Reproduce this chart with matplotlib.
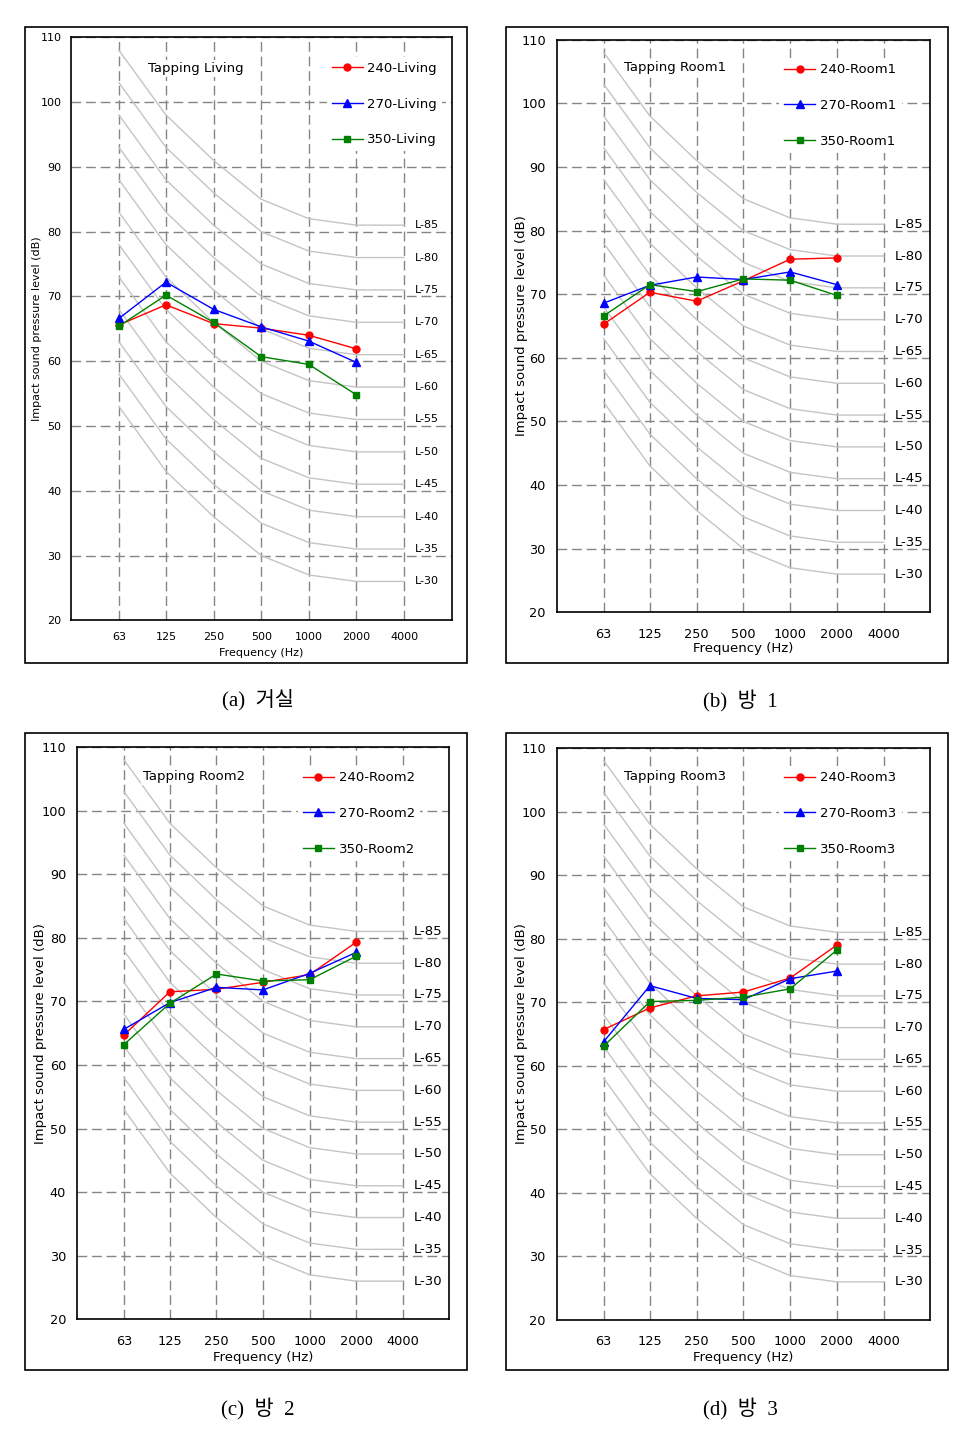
import matplotlib
matplotlib.use("Agg")
import matplotlib.pyplot as plt
from matplotlib.patches import Rectangle
from matplotlib.ticker import NullLocator

plt.rcParams['font.family'] = ['DejaVu Sans']

# ---------------- data ----------------
freqs = [63, 125, 250, 500, 1000, 2000]
tick_freqs = [63, 125, 250, 500, 1000, 2000, 4000]
tick_labels = ['63', '125', '250', '500', '1000', '2000', '4000']
y_ticks = [20, 30, 40, 50, 60, 70, 80, 90, 100, 110]

# reference L-curves: rating levels and shape offsets at tick_freqs
l_ratings = [30, 35, 40, 45, 50, 55, 60, 65, 70, 75, 80, 85]
l_shape = [23, 13, 6, 0, -3, -4, -4]

living_240 = [65.6, 68.7, 65.8, 65.1, 64.0, 61.9]
living_270 = [66.6, 72.2, 68.0, 65.3, 63.1, 59.8]
living_350 = [65.4, 70.2, 66.0, 60.7, 59.5, 54.8]

room1_240 = [65.3, 70.3, 68.9, 72.1, 75.5, 75.7]
room1_270 = [68.6, 71.4, 72.7, 72.3, 73.5, 71.5]
room1_350 = [66.6, 71.5, 70.4, 72.4, 72.2, 69.8]

room2_240 = [64.7, 71.5, 71.9, 73.0, 74.2, 79.3]
room2_270 = [65.6, 69.8, 72.2, 71.8, 74.4, 77.7]
room2_350 = [63.2, 69.7, 74.3, 73.2, 73.4, 77.1]

room3_240 = [65.7, 69.1, 71.0, 71.6, 73.8, 79.0]
room3_270 = [63.8, 72.6, 70.6, 70.4, 73.7, 74.9]
room3_350 = [63.1, 70.1, 70.3, 70.8, 72.1, 78.2]

series_names = ['240', '270', '350']
rooms = ['Living', 'Room1', 'Room2', 'Room3']
captions = ['(a)  거실', '(b)  방  1', '(c)  방  2', '(d)  방  3']
room_data = [
    [living_240, living_270, living_350],
    [room1_240, room1_270, room1_350],
    [room2_240, room2_270, room2_350],
    [room3_240, room3_270, room3_350],
]

# ---------------- styles / layout ----------------
W, H = 978, 1435
styles = [dict(color='#ff0000', marker='o', ms=5),
          dict(color='#0000ff', marker='^', ms=6),
          dict(color='#008000', marker='s', ms=5)]

# axes box in pixels: left, top, right, bottom
axes_px = [(71.3, 37.3, 451.7, 620.3),
           (557.0, 39.7, 930.3, 612.3),
           (77.3, 747.0, 449.3, 1319.3),
           (557.0, 748.0, 930.3, 1320.0)]
outer_px = [(25, 27, 467, 663), (506, 27, 948, 663),
            (25, 733, 467, 1370), (506, 733, 948, 1370)]
caption_px = [(258, 700), (740, 700), (258, 1408), (740, 1408)]
title_pos = [(0.2016, 0.947), (0.1795, 0.9506), (0.1766, 0.9493), (0.1795, 0.951)]
legend_pos = [(0.671, 0.967), (0.595, 0.968), (0.5925, 0.967), (0.595, 0.9686)]
ylabel_x = [-0.090, -0.094, -0.0976, -0.095]
xlabel_y = [-0.056, -0.064, -0.066, -0.065]
tick_fs = [8, 9.3, 9.3, 9.3]
label_fs = [8, 9.5, 9.5, 9.5]
lab_fs = [8, 9.5, 9.5, 9.5]
xpad = [8.5, 11, 11, 11]
ypad = [7, 8, 8, 8]

fig = plt.figure(figsize=(W / 100, H / 100), dpi=100)

for i in range(4):
    l, t, r, b = axes_px[i]
    ax = fig.add_axes([l / W, 1 - b / H, (r - l) / W, (b - t) / H])
    ax.set_xscale('log', base=2)
    ax.set_xlim(31.5, 8000)
    ax.set_ylim(20, 110)
    ax.set_xticks(tick_freqs)
    ax.set_xticklabels(tick_labels)
    ax.xaxis.set_minor_locator(NullLocator())
    ax.set_yticks(y_ticks)
    ax.tick_params(axis='both', length=0, labelsize=tick_fs[i])
    ax.tick_params(axis='x', pad=xpad[i])
    ax.tick_params(axis='y', pad=ypad[i])
    ax.grid(True, color='#858585', linestyle=(0, (7, 3.5)), lw=1.0)
    ax.set_axisbelow(True)
    for sp in ax.spines.values():
        sp.set_linewidth(1.2)
        sp.set_color('black')

    # reference L-curves
    for lr in l_ratings:
        vals = [lr + s for s in l_shape]
        ax.plot(tick_freqs, vals, color='#c4c4c4', lw=1.0, zorder=1.5)
        ax.annotate(f'L-{lr}', xy=(tick_freqs[-1], vals[-1]), xytext=(8, 0),
                    textcoords='offset points', va='center', ha='left',
                    fontsize=lab_fs[i], zorder=3)

    # data series
    for k in range(3):
        st = styles[k]
        ax.plot(freqs, room_data[i][k], color=st['color'], marker=st['marker'],
                ms=st['ms'], lw=1.0, label=f'{series_names[k]}-{rooms[i]}',
                zorder=3 + k * 0.1)

    ax.text(title_pos[i][0], title_pos[i][1], f'Tapping {rooms[i]}',
            transform=ax.transAxes, fontsize=9.5, ha='left', va='center',
            bbox=dict(facecolor='white', edgecolor='none', pad=1.5), zorder=4)

    leg = ax.legend(loc='upper left', bbox_to_anchor=legend_pos[i],
                    frameon=True, fancybox=False, edgecolor='none',
                    facecolor='white', framealpha=1, fontsize=9.5,
                    handlelength=2.35, handletextpad=0.35, labelspacing=1.72,
                    borderpad=0.4, borderaxespad=0)
    leg.set_zorder(5)

    ax.set_xlabel('Frequency (Hz)', fontsize=label_fs[i])
    ax.xaxis.set_label_coords(0.5, xlabel_y[i])
    ax.xaxis.label.set_verticalalignment('center')
    ax.set_ylabel('Impact sound pressure level (dB)', fontsize=label_fs[i])
    ax.yaxis.set_label_coords(ylabel_x[i], 0.5)
    ax.yaxis.label.set_verticalalignment('center')

    # outer frame of panel
    x0, y0, x1, y1 = outer_px[i]
    fig.add_artist(Rectangle((x0 / W, 1 - y1 / H), (x1 - x0) / W, (y1 - y0) / H,
                             transform=fig.transFigure, fill=False,
                             edgecolor='black', lw=1.2))
    cx, cy = caption_px[i]
    fig.text(cx / W, 1 - cy / H, captions[i], ha='center', va='center',
             fontsize=15, family=['Liberation Serif', 'Noto Sans CJK KR'])

fig.savefig('out.png', dpi=100)
